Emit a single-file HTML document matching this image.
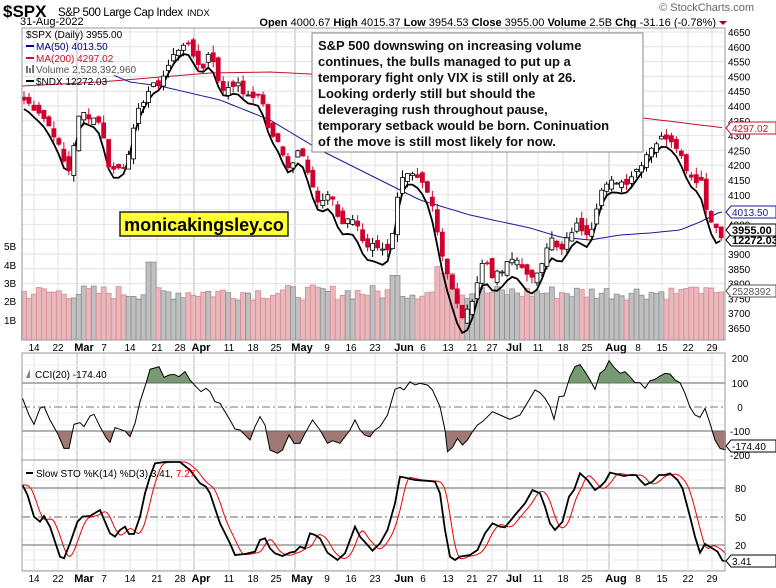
<!DOCTYPE html>
<html><head><meta charset="utf-8">
<style>
body{margin:0;background:#fff;width:776px;height:588px;overflow:hidden;font-family:"Liberation Sans",sans-serif;}
svg{position:absolute;left:0;top:0}
</style></head><body>
<svg id="c" width="776" height="588" xmlns="http://www.w3.org/2000/svg" font-family="Liberation Sans, sans-serif">
<rect width="776" height="588" fill="#fff"/>
<text x="3" y="17" font-size="17" font-weight="bold">$SPX</text>
<text x="58" y="16" font-size="11.5" textLength="125">S&amp;P 500 Large Cap Index</text>
<text x="187" y="16" font-size="9.5">INDX</text>
<text x="20" y="25" font-size="11">31-Aug-2022</text>
<text x="754" y="11" font-size="11" fill="#666" text-anchor="end">© StockCharts.com</text>
<text x="716" y="26" font-size="11" text-anchor="end"><tspan font-weight="bold">Open</tspan> 4000.67 <tspan font-weight="bold">High</tspan> 4015.37 <tspan font-weight="bold">Low</tspan> 3954.53 <tspan font-weight="bold">Close</tspan> 3955.00 <tspan font-weight="bold">Volume</tspan> 2.5B <tspan font-weight="bold">Chg</tspan> -31.16 (-0.78%)</text>
<polygon points="719,21 727,21 723,25" fill="#a00020"/>
<g id="grid"></g>
<g id="vol"></g>
<g id="lines"></g>
<g id="cand"></g>
<g id="ind"></g>
<g id="frame" fill="none" stroke="#999">
<rect x="22" y="28" width="703" height="312"/>
<rect x="22" y="353" width="703" height="107"/>
<rect x="22" y="460" width="703" height="111"/>
</g>
<g font-size="10">
<text x="26" y="38">$SPX (Daily) 3955.00</text>
<line x1="26" y1="46" x2="34" y2="46" stroke="#00008b" stroke-width="2"/><text x="36" y="50" fill="#00008b">MA(50) 4013.50</text>
<line x1="26" y1="58" x2="34" y2="58" stroke="#c8102e" stroke-width="2"/><text x="36" y="62" fill="#c8102e">MA(200) 4297.02</text>
<text x="36" y="73" fill="#555">Volume 2,528,392,960</text>
<rect x="26" y="66" width="2" height="7" fill="#777"/><rect x="29" y="68" width="2" height="5" fill="#777"/><rect x="32" y="65" width="2" height="8" fill="#777"/>
<line x1="26" y1="81" x2="34" y2="81" stroke="#000" stroke-width="2"/><text x="36" y="85">$NDX 12272.03</text>
<text x="35" y="378">CCI(20) -174.40</text>
<polygon points="26,378 30,369 30,378" fill="#6f8f6a"/>
<line x1="26" y1="473" x2="33" y2="473" stroke="#000" stroke-width="2"/>
<text x="36" y="477">Slow STO %K(14) %D(3) 3.41, <tspan fill="#e00">7.27</tspan></text>
</g>
<rect x="312" y="33" width="331" height="119" fill="#fff" stroke="#888"/>
<g font-size="13" font-weight="bold" fill="#111">
<text x="318" y="50">S&amp;P 500 downswing on increasing volume</text>
<text x="318" y="66">continues, the bulls managed to put up a</text>
<text x="318" y="82">temporary fight only VIX is still only at 26.</text>
<text x="318" y="98">Looking orderly still but should the</text>
<text x="318" y="114">deleveraging rush throughout pause,</text>
<text x="318" y="130">temporary setback would be born. Coninuation</text>
<text x="318" y="146">of the move is still most likely for now.</text>
</g>
<rect x="120" y="212" width="168" height="24" fill="#ffff33" stroke="#222" stroke-width="1.5"/>
<text x="204" y="231" font-size="18" font-weight="bold" text-anchor="middle">monicakingsley.co</text>
<g id="labels" font-size="10"></g>
</svg>
<script>
var NS="http://www.w3.org/2000/svg";
function el(p,t,a,txt){var e=document.createElementNS(NS,t);for(var k in a)e.setAttribute(k,a[k]);if(txt!=null)e.textContent=txt;document.getElementById(p).appendChild(e);return e;}
var seed=7;function rnd(){seed=(seed*9301+49297)%233280;return seed/233280;}
function interp(pts,x){if(x<=pts[0][0])return pts[0][1];for(var i=1;i<pts.length;i++){if(x<=pts[i][0]){var a=pts[i-1],b=pts[i];return a[1]+(b[1]-a[1])*(x-a[0])/(b[0]-a[0]);}}return pts[pts.length-1][1];}
var N=141;function X(i){return 24+i*4.98;}
function PY(p){return 32+(4650-p)*0.296;}
var dates=[[34,"14"],[58,"22"],[84,"Mar",1],[104,"7"],[130,"14"],[157,"21"],[180,"28"],[201,"Apr",1],[229,"11"],[253,"18"],[276,"25"],[302,"May",1],[327,"9"],[351,"16"],[375,"23"],[404,"Jun",1],[423,"6"],[448,"13"],[472,"21"],[492,"27"],[514,"Jul",1],[538,"11"],[563,"18"],[587,"25"],[616,"Aug",1],[638,"8"],[662,"15"],[688,"22"],[712,"29"]];
dates.forEach(function(d){var x=d[0]-(d[2]?7:0);[[28,340],[353,460],[460,571]].forEach(function(r){el("grid","line",{x1:x,y1:r[0],x2:x,y2:r[1],stroke:d[2]?"#bbb":"#e2e2e2"});});
 [351,582].forEach(function(y){el("labels","text",{x:d[0],y:y,"text-anchor":"middle","font-weight":d[2]?"bold":"normal","font-size":d[2]?"11":"10"},d[1]);});});
for(var p=3650;p<=4650;p+=50){var y=PY(p);el("grid","line",{x1:22,y1:y,x2:725,y2:y,stroke:"#e2e2e2"});el("labels","text",{x:728,y:y+4},p);}
[[246,"5B"],[265,"4B"],[283,"3B"],[301,"2B"],[320,"1B"]].forEach(function(v){el("labels","text",{x:4,y:v[0]+4},v[1]);});
[[358,"200"],[383,"100"],[407,"0"],[431,"-100"],[455,"-200"]].forEach(function(v,i){if(i>0&&i<4)el("grid","line",{x1:22,y1:v[0],x2:725,y2:v[0],stroke:i==2?"#777":"#666","stroke-dasharray":i==2?"8,3,2,3":"none"});el("labels","text",{x:740,y:v[0]+4,"text-anchor":"middle"},v[1]);});
for(var yy=365;yy<460;yy+=12)el("grid","line",{x1:22,y1:yy,x2:725,y2:yy,stroke:"#eee"});
for(var yy=470;yy<571;yy+=10)el("grid","line",{x1:22,y1:yy,x2:725,y2:yy,stroke:"#eee"});
[[488,"80",0],[517,"50",1],[545,"20",0]].forEach(function(v){el("grid","line",{x1:22,y1:v[0],x2:725,y2:v[0],stroke:"#666","stroke-dasharray":v[2]?"8,3,2,3":"none"});el("labels","text",{x:735,y:v[0]+4},v[1]);});
var key=[[24,4420],[40,4380],[55,4300],[68,4170],[80,4380],[100,4350],[110,4180],[125,4200],[140,4400],[150,4460],[160,4480],[175,4580],[185,4620],[195,4560],[205,4520],[210,4610],[220,4450],[235,4480],[250,4420],[260,4450],[270,4300],[280,4270],[290,4180],[300,4280],[310,4150],[320,4050],[330,4120],[340,4000],[355,4020],[365,3930],[380,3930],[390,3900],[400,4140],[410,4170],[420,4150],[430,4110],[440,3930],[450,3800],[460,3700],[465,3680],[475,3780],[485,3900],[490,3830],[500,3830],[510,3880],[520,3880],[530,3800],[540,3860],[550,3960],[560,3900],[575,4000],[590,3970],[600,4110],[615,4150],[625,4140],[640,4200],[650,4260],[665,4300],[675,4280],[685,4200],[695,4140],[700,4180],[705,4060],[710,4030],[715,3990],[721,3955]];
var C=[],O=[];for(var i=0;i<N;i++){C.push(interp(key,X(i))+(rnd()-0.5)*25);}C[N-1]=3955;
for(var i=0;i<N;i++){O.push(i?C[i-1]+(rnd()-0.5)*40:C[0]+10);}
for(var i=0;i<N;i++){var v=2.1+rnd()*0.8;var x=X(i);if(Math.abs(x-150)<4)v=4.1;if(Math.abs(x-395)<6)v=3.4;if(Math.abs(x-445)<10)v=3.3+rnd()*0.6;if(x>690)v=2.3+rnd()*0.5;if(i==N-1)v=2.53;
 var h=v*19;var dn=C[i]<O[i];el("vol","rect",{x:x-2.5,y:340-h,width:5,height:h,fill:dn?"#e8b8bd":"#c0c0c0",stroke:dn?"#d88a92":"#8e8e8e","stroke-width":0.8});}
var ma200=[[22,86],[100,82],[210,73],[270,72],[330,75],[450,85],[600,112],[643,118],[725,128]];
var ma50=[[113,75],[130,82],[160,86],[220,100],[270,120],[320,150],[370,175],[420,200],[470,215],[530,228],[560,237],[590,240],[620,235],[650,233],[680,230],[700,222],[720,212]];
function poly(pts,c,w){el("lines","polyline",{points:pts.map(function(p){return p[0]+","+p[1]}).join(" "),fill:"none",stroke:c,"stroke-width":w});}
var m2=[],m5=[];for(var x=22;x<=723;x+=4){m2.push([x,interp(ma200,x)]);if(x>=113)m5.push([x,interp(ma50,x)]);}
poly(m2,"#c8102e",1);poly(m5,"#1a1a9a",1);
var nd=[];for(var i=0;i<N;i++){var a=C[Math.max(0,i-1)],b=C[i],c=C[Math.min(N-1,i+1)];var y=PY((a+2*b+c)/4);y=y+8+Math.max(0,y-150)*0.08;nd.push([X(i),y]);}
nd[N-1]=[X(N-1)-1,241];poly(nd,"#000",1.8);
for(var i=0;i<N;i++){var o=O[i],c=C[i],hi=Math.max(o,c)+rnd()*25,lo=Math.min(o,c)-rnd()*25,x=X(i);var dn=c<o;var col=dn?"#d0002e":"#000";
 el("cand","line",{x1:x,y1:PY(hi),x2:x,y2:PY(lo),stroke:col});var t=PY(Math.max(o,c)),h=Math.max(1,PY(Math.min(o,c))-t);
 el("cand","rect",{x:x-2,y:t,width:4,height:h,fill:dn?"#d0002e":"#fff",stroke:col,"stroke-width":0.8});}
var cci=[[45,205],[58,255],[68,283],[80,235],[88,230],[100,270],[115,310],[128,355],[138,355],[148,283],[160,278],[168,290],[180,258],[188,253],[200,290],[213,325],[220,337],[230,293],[240,298],[250,303],[260,320],[270,280],[280,215],[292,160],[300,118],[318,110],[328,142],[338,135],[348,133],[358,140],[370,125],[380,150],[392,170],[402,185],[412,175],[420,185],[430,215],[440,220],[460,270],[470,297],[480,300],[490,315],[500,330],[510,290],[520,260],[530,285],[540,360],[555,370],[565,360],[578,315],[588,340],[600,340],[610,310],[625,270],[640,300],[655,340],[665,332],[680,340],[700,300],[710,270],[720,300],[730,316],[740,320],[750,300],[760,290],[775,255],[790,178],[800,172],[808,180],[820,155],[830,165],[840,160],[855,165],[865,180],[880,230],[890,300],[895,365],[905,352],[915,325],[925,345],[935,330],[945,305],[955,285],[965,275],[985,245],[1000,255],[1020,268],[1040,255],[1055,218],[1070,180],[1080,188],[1090,205],[1100,230],[1108,268],[1118,200],[1128,198],[1140,140],[1150,110],[1160,104],[1170,125],[1180,150],[1190,178],[1200,130],[1210,118],[1218,92],[1228,112],[1240,130],[1250,125],[1260,140],[1270,158],[1280,158],[1290,175],[1300,152],[1310,148],[1320,138],[1330,130],[1340,132],[1350,150],[1360,158],[1370,190],[1380,232],[1390,255],[1400,262],[1410,235],[1420,280],[1430,330],[1440,355],[1450,360],[1452,358]].map(function(p){return[p[0]/2,p[1]/3+330]});
var up=[[22,383]],dn=[[22,431]];for(var x=22.5;x<=726;x+=0.5){var y=interp(cci,x);up.push([x,Math.min(y,383)]);dn.push([x,Math.max(y,431)]);}
up.push([726,383]);dn.push([726,431]);
el("ind","polygon",{points:up.map(function(p){return p.join(",")}).join(" "),fill:"#789a72"});
el("ind","polygon",{points:dn.map(function(p){return p.join(",")}).join(" "),fill:"#a07874"});
el("ind","line",{x1:22,y1:383,x2:725,y2:383,stroke:"#666"});
el("ind","line",{x1:22,y1:431,x2:725,y2:431,stroke:"#666"});
el("ind","polyline",{points:cci.map(function(p){return p.join(",")}).join(" "),fill:"none",stroke:"#000","stroke-width":1});
var k=[[45,465],[55,495],[68,560],[80,575],[88,558],[100,590],[110,635],[120,680],[128,685],[140,640],[155,575],[165,560],[180,558],[200,540],[210,575],[220,610],[230,620],[240,600],[250,590],[258,612],[268,612],[280,560],[290,490],[300,440],[310,400],[330,380],[360,385],[380,420],[400,460],[412,470],[420,490],[440,580],[460,640],[470,675],[490,672],[510,665],[520,630],[530,625],[540,655],[550,670],[565,678],[580,668],[590,665],[600,650],[610,655],[620,610],[630,615],[640,625],[655,668],[675,690],[690,670],[710,590],[720,620],[735,645],[745,662],[760,640],[775,600],[790,520],[800,440],[810,443],[830,450],[850,452],[870,455],[880,490],[890,600],[900,680],[910,690],[920,680],[940,675],[955,660],[970,610],[985,580],[1000,590],[1010,592],[1030,555],[1050,520],[1065,480],[1080,490],[1090,530],[1100,580],[1110,600],[1125,575],[1138,500],[1148,480],[1160,430],[1175,450],[1190,480],[1200,470],[1210,455],[1220,428],[1232,432],[1248,438],[1260,435],[1272,435],[1280,450],[1290,465],[1305,455],[1318,435],[1330,435],[1340,430],[1355,450],[1365,475],[1380,560],[1390,620],[1400,668],[1410,642],[1425,655],[1435,665],[1445,692],[1452,693]].map(function(p){return[p[0]/2,Math.max(p[1]/3+330,462)]});
var d=[];for(var x=22;x<=726;x+=2){var s=0;for(var j=0;j<5;j++)s+=interp(k,x-4-j*1.5);d.push([x,s/5]);}
el("ind","polyline",{points:d.map(function(p){return p.join(",")}).join(" "),fill:"none",stroke:"#e00","stroke-width":1});
el("ind","polyline",{points:k.map(function(p){return p.join(",")}).join(" "),fill:"none",stroke:"#000","stroke-width":1.8});
function box(y,txt,col,bold){el("labels","polygon",{points:"726,"+y+" 731,"+(y-6)+" 776,"+(y-6)+" 776,"+(y+6)+" 731,"+(y+6),fill:"#fff",stroke:col});el("labels","text",{x:732,y:y+4,fill:bold?"#000":col,"font-weight":bold?"bold":"normal","font-size":bold?"11":"10"},txt);}
box(128,"4297.02","#c8102e");box(212,"4013.50","#1a1a9a");box(291,"2528392","#555");box(240,"12272.03","#000",1);box(230,"3955.00","#000",1);
box(446,"-174.40","#000");box(561,"3.41","#000");
</script>
</body></html>
